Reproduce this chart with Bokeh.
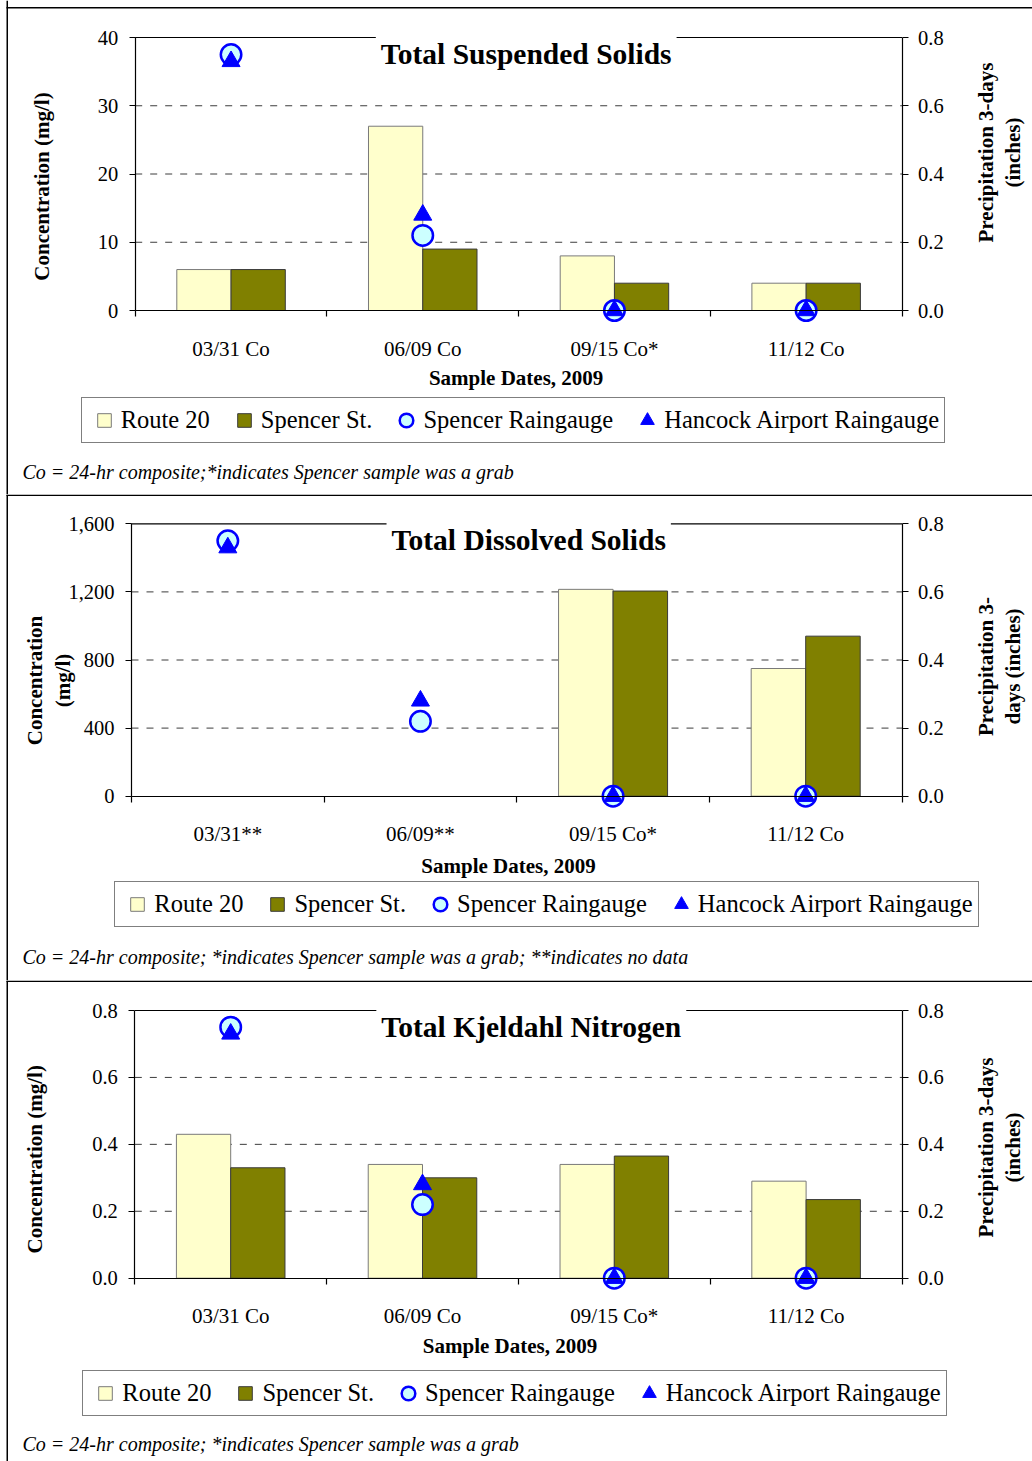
from bokeh.plotting import figure
from bokeh.layouts import column
from bokeh.models import (Range1d, LinearAxis, FixedTicker, Label, Legend, LegendItem,
                          BoxAnnotation, NumeralTickFormatter, ColumnDataSource)
from bokeh.embed import file_html
from bokeh.resources import INLINE

# ---------------- data ----------------
tss_dates = ["03/31 Co", "06/09 Co", "09/15 Co*", "11/12 Co"]
tss_route20 = [6, 27, 8, 4]
tss_spencer = [6, 9, 4, 4]
tss_ticks = [0, 10, 20, 30, 40]

tds_dates = ["03/31**", "06/09**", "09/15 Co*", "11/12 Co"]
tds_route20 = [None, None, 1215, 750]
tds_spencer = [None, None, 1205, 940]
tds_ticks = [0, 400, 800, 1200, 1600]

tkn_dates = ["03/31 Co", "06/09 Co", "09/15 Co*", "11/12 Co"]
tkn_route20 = [0.43, 0.34, 0.34, 0.29]
tkn_spencer = [0.33, 0.30, 0.365, 0.235]
tkn_ticks = [0.0, 0.2, 0.4, 0.6, 0.8]

spencer_raingauge = [0.75, 0.22, 0.0, 0.0]
hancock_raingauge = [0.73, 0.28, 0.0, 0.0]
rain_ticks = [0.0, 0.2, 0.4, 0.6, 0.8]

series_names = ["Route 20", "Spencer St.", "Spencer Raingauge", "Hancock Airport Raingauge"]

# ---------------- style / layout ----------------
FONT = "Liberation Serif"
FIG_W = 1032
FRAME_RIGHT = 901.5
BW = 0.283
ROUTE_FILL, ROUTE_LINE = "#FFFFCC", "#7a7a7a"
SPENCER_FILL, SPENCER_LINE = "#808000", "#3a3a3a"
RAIN_FILL, RAIN_LINE = "#CCFFFF", "#0000FF"
TRI_COLOR = "#0000FF"
AX_W = 1.2
NAN = float("nan")

panels = [
    dict(fig_top=0, fig_h=494, frame_left=134.7, frame_top=37, zero_y=310,
         ticks=tss_ticks, fmt="0", dates=tss_dates, route=tss_route20, spencer=tss_spencer,
         title="Total Suspended Solids", title_x=525.7, title_y=53.3,
         ylab=[("Concentration (mg/l)", 41, 186)],
         rlab=[("Precipitation 3-days", 985, 152), ("(inches)", 1012, 152)],
         xlab_x=515.6, xlab_y=377, leg_left=80.7, leg_bottom=442.7,
         note="Co = 24-hr composite;*indicates Spencer sample was a grab", note_y=471.5,
         top_border=True),
    dict(fig_top=494, fig_h=486, frame_left=131, frame_top=523.3, zero_y=795.7,
         ticks=tds_ticks, fmt="0,0", dates=tds_dates, route=tds_route20, spencer=tds_spencer,
         title="Total Dissolved Solids", title_x=528.2, title_y=539.3,
         ylab=[("Concentration", 34.5, 680), ("(mg/l)", 62.8, 680)],
         rlab=[("Precipitation 3-", 985, 666), ("days (inches)", 1012, 666)],
         xlab_x=508, xlab_y=865, leg_left=114.3, leg_bottom=926.7,
         note="Co = 24-hr composite; *indicates Spencer sample was a grab; **indicates no data",
         note_y=956.7, top_border=False),
    dict(fig_top=980, fig_h=481, frame_left=134.3, frame_top=1010, zero_y=1277.7,
         ticks=tkn_ticks, fmt="0.0", dates=tkn_dates, route=tkn_route20, spencer=tkn_spencer,
         title="Total Kjeldahl Nitrogen", title_x=530.8, title_y=1026.7,
         ylab=[("Concentration (mg/l)", 34.3, 1158.8)],
         rlab=[("Precipitation 3-days", 985, 1147), ("(inches)", 1012, 1147)],
         xlab_x=509.5, xlab_y=1345, leg_left=82.3, leg_bottom=1416,
         note="Co = 24-hr composite; *indicates Spencer sample was a grab", note_y=1443.3,
         top_border=False),
]


def make_panel(c):
    fig_top, fig_h = c["fig_top"], c["fig_h"]
    dates = c["dates"]
    n = len(dates)
    ticks = c["ticks"]
    ymax = ticks[-1]
    rmax = rain_ticks[-1]

    # pixel box of the plotting area inside the canvas (the frame is the whole canvas)
    L = c["frame_left"]
    R = FRAME_RIGHT
    T = c["frame_top"] - fig_top
    Z = c["zero_y"] - fig_top
    xpx = (R - L) / n
    x_start = 0.5 - L / xpx
    x_end = n + 0.5 + (FIG_W - R) / xpx
    ypx = (Z - T) / ymax
    y_start = -(fig_h - Z) / ypx
    y_end = ymax + T / ypx
    rpx = (Z - T) / rmax
    r_start = -(fig_h - Z) / rpx
    r_end = rmax + T / rpx

    def sy(py):
        return fig_top + fig_h - py

    centers = [i + 1 for i in range(n)]
    bounds_x = (0.5, n + 0.5)

    p = figure(width=FIG_W, height=fig_h, title=None,
               x_range=Range1d(x_start, x_end), y_range=Range1d(y_start, y_end),
               x_axis_type=None, y_axis_type=None,
               output_backend="svg", toolbar_location=None,
               min_border=0, outline_line_color=None,
               background_fill_color="white", border_fill_color="white")
    p.extra_y_ranges = {"rain": Range1d(r_start, r_end)}

    # dashed value grid + solid top line of the plot box
    grid_vals = ticks[1:-1]
    p.segment(x0=[bounds_x[0]] * len(grid_vals), x1=[bounds_x[1]] * len(grid_vals),
              y0=grid_vals, y1=grid_vals, line_color="#3c3c3c", line_dash="7 8", line_width=1)
    p.segment(x0=[bounds_x[0]], x1=[bounds_x[1]], y0=[ymax], y1=[ymax],
              line_color="black", line_width=AX_W)

    # axes (fixed locations so they live inside the canvas)
    yl = LinearAxis(ticker=FixedTicker(ticks=ticks), formatter=NumeralTickFormatter(format=c["fmt"]),
                    fixed_location=bounds_x[0], bounds=(0, ymax),
                    axis_line_color="black", axis_line_width=AX_W,
                    major_tick_line_color="black", major_tick_line_width=AX_W,
                    major_tick_out=6, major_tick_in=0,
                    minor_tick_line_color=None, major_label_standoff=11,
                    major_label_text_font=FONT, major_label_text_font_size="20.5px",
                    major_label_text_color="black")
    p.add_layout(yl, "left")
    yr = LinearAxis(y_range_name="rain", ticker=FixedTicker(ticks=rain_ticks),
                    formatter=NumeralTickFormatter(format="0.0"),
                    fixed_location=bounds_x[1], bounds=(0, rmax),
                    axis_line_color="black", axis_line_width=AX_W,
                    major_tick_line_color="black", major_tick_line_width=AX_W,
                    major_tick_out=6, major_tick_in=0,
                    minor_tick_line_color=None, major_label_standoff=10,
                    major_label_text_font=FONT, major_label_text_font_size="20.5px",
                    major_label_text_color="black")
    p.add_layout(yr, "right")
    xa = LinearAxis(ticker=FixedTicker(ticks=centers, minor_ticks=[i + 0.5 for i in range(n + 1)]),
                    fixed_location=0, bounds=bounds_x,
                    major_label_overrides={cx: d for cx, d in zip(centers, dates)},
                    axis_line_color="black", axis_line_width=AX_W,
                    major_tick_line_color=None, major_tick_out=0, major_tick_in=0,
                    minor_tick_line_color="black", minor_tick_line_width=AX_W,
                    minor_tick_out=6, minor_tick_in=0,
                    major_label_standoff=20, major_label_text_font=FONT,
                    major_label_text_font_size="21px", major_label_text_color="black")
    p.add_layout(xa, "below")

    # bars
    r_idx = [i for i in range(n) if c["route"][i] is not None]
    s_idx = [i for i in range(n) if c["spencer"][i] is not None]
    src_r = ColumnDataSource(dict(x=[centers[i] - BW / 2 for i in r_idx],
                                  top=[c["route"][i] for i in r_idx]))
    src_s = ColumnDataSource(dict(x=[centers[i] + BW / 2 for i in s_idx],
                                  top=[c["spencer"][i] for i in s_idx]))
    p.vbar(x="x", top="top", bottom=0, width=BW, source=src_r,
           fill_color=ROUTE_FILL, line_color=ROUTE_LINE, line_width=1)
    p.vbar(x="x", top="top", bottom=0, width=BW, source=src_s,
           fill_color=SPENCER_FILL, line_color=SPENCER_LINE, line_width=1)

    # rain markers (right axis)
    src_rain = ColumnDataSource(dict(x=centers, spencer=spencer_raingauge, hancock=hancock_raingauge))
    rc = p.scatter(x="x", y="spencer", source=src_rain, y_range_name="rain", marker="circle",
                   size=20.5, fill_color=RAIN_FILL, line_color=RAIN_LINE, line_width=2.5)
    rt = p.scatter(x="x", y="hancock", source=src_rain, y_range_name="rain", marker="triangle",
                   size=18, fill_color=TRI_COLOR, line_color=TRI_COLOR, line_width=1)

    # legend-only square swatches for the bar series (NaN point: nothing drawn in the plot)
    d_r = p.scatter(x=[NAN], y=[NAN], marker="square", fill_color=ROUTE_FILL,
                    line_color=ROUTE_LINE, line_width=1)
    d_s = p.scatter(x=[NAN], y=[NAN], marker="square", fill_color=SPENCER_FILL,
                    line_color=SPENCER_LINE, line_width=1)

    legend = Legend(items=[LegendItem(label=series_names[0], renderers=[d_r]),
                           LegendItem(label=series_names[1], renderers=[d_s]),
                           LegendItem(label=series_names[2], renderers=[rc]),
                           LegendItem(label=series_names[3], renderers=[rt])],
                    location=(c["leg_left"], sy(c["leg_bottom"])),
                    orientation="horizontal", glyph_width=34, glyph_height=34,
                    label_standoff=0, spacing=17, padding=5, margin=0,
                    label_text_font=FONT, label_text_font_size="24.5px",
                    label_text_color="black",
                    border_line_color="black", border_line_width=1,
                    background_fill_color="white", background_fill_alpha=1)
    p.add_layout(legend)

    # chart title over the top line
    p.add_layout(Label(x=c["title_x"], y=sy(c["title_y"]), x_units="screen", y_units="screen",
                       text=c["title"], text_font=FONT, text_font_style="bold",
                       text_font_size="29.5px", text_align="center", text_baseline="alphabetic",
                       text_color="black", background_fill_color="white", padding=5))
    # axis titles
    for txt, px, py in c["ylab"] + c["rlab"]:
        p.add_layout(Label(x=px, y=sy(py), x_units="screen", y_units="screen",
                           text=txt, text_font=FONT, text_font_style="bold",
                           text_font_size="21px", text_align="center", text_baseline="middle",
                           text_color="black", angle=90, angle_units="deg"))
    p.add_layout(Label(x=c["xlab_x"], y=sy(c["xlab_y"]), x_units="screen", y_units="screen",
                       text="Sample Dates, 2009", text_font=FONT, text_font_style="bold",
                       text_font_size="21px", text_align="center", text_baseline="alphabetic",
                       text_color="black"))
    # footnote
    p.add_layout(Label(x=22, y=sy(c["note_y"]), x_units="screen", y_units="screen",
                       text=c["note"], text_font=FONT, text_font_style="italic",
                       text_font_size="20px", text_align="left", text_baseline="alphabetic",
                       text_color="black"))

    # outer box lines: left edge and panel separators
    p.add_layout(BoxAnnotation(left=6, right=7.5, top=fig_h, bottom=0,
                               left_units="screen", right_units="screen",
                               top_units="screen", bottom_units="screen",
                               fill_color="black", fill_alpha=1, line_color=None))
    if c["top_border"]:
        yb_top, yb_bot = fig_h - 6.5, fig_h - 8
    else:
        yb_top, yb_bot = fig_h, fig_h - 1.5
    p.add_layout(BoxAnnotation(left=6, right=FIG_W, top=yb_top, bottom=yb_bot,
                               left_units="screen", right_units="screen",
                               top_units="screen", bottom_units="screen",
                               fill_color="black", fill_alpha=1, line_color=None))
    return p


figs = [make_panel(c) for c in panels]
layout = column(*figs, spacing=0)
open("out.html", "w").write(file_html(layout, INLINE))
